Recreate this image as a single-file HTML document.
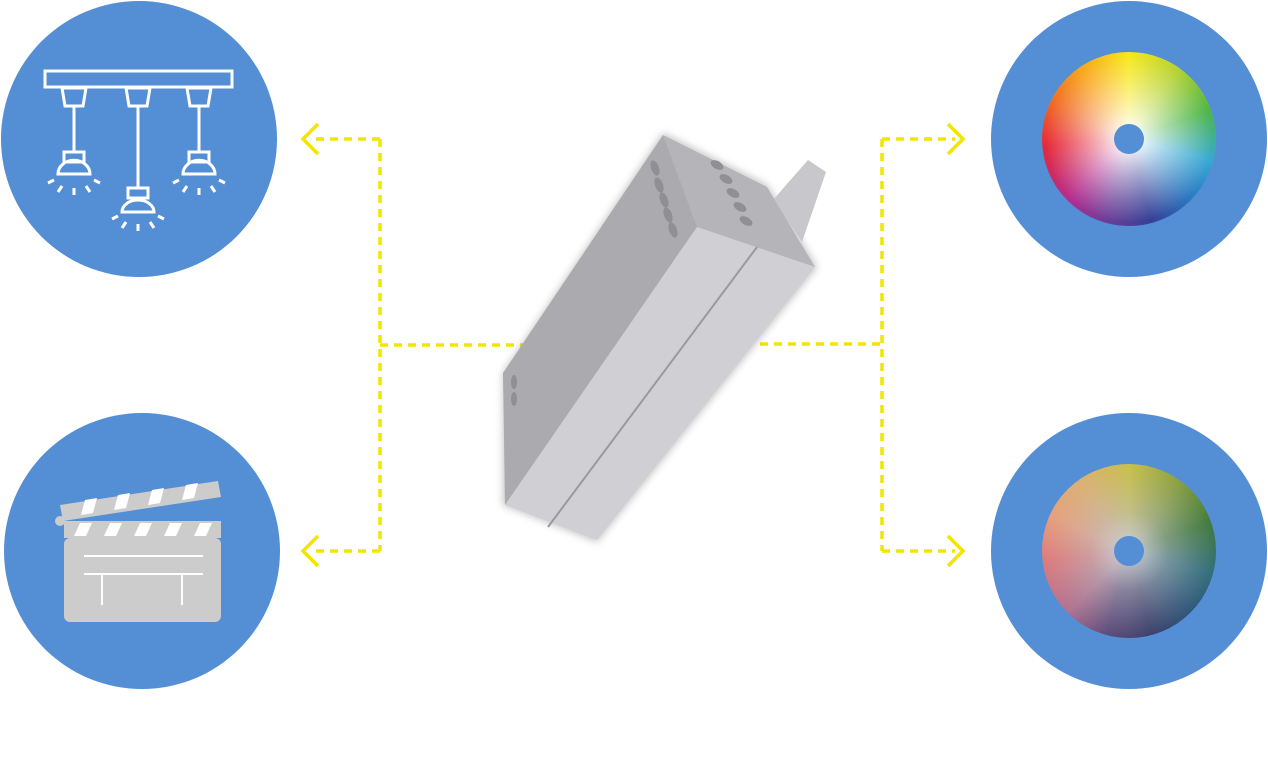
<!DOCTYPE html>
<html><head><meta charset="utf-8"><style>
html,body{margin:0;padding:0;background:#fff;}
body{width:1268px;height:764px;position:relative;overflow:hidden;font-family:"Liberation Sans",sans-serif;}
.c{position:absolute;border-radius:50%;background:#548fd5;}
.w{position:absolute;border-radius:50%;}
</style></head><body>
<div class="c" style="left:1px;top:1px;width:276px;height:276px"></div>
<div class="c" style="left:4px;top:413px;width:276px;height:276px"></div>
<div class="c" style="left:991px;top:1px;width:276px;height:276px"></div>
<div class="c" style="left:991px;top:413px;width:276px;height:276px"></div>

<div class="w" style="left:1042px;top:52px;width:174px;height:174px;background:conic-gradient(#f7e81e 0deg,#b5d334 35deg,#4fb748 70deg,#36a9d3 105deg,#2b78c0 135deg,#363f97 165deg,#6a3f98 195deg,#b52d8e 225deg,#e5283a 265deg,#f06a26 295deg,#f9a51c 325deg,#f7e81e 360deg);"></div>
<div class="w" style="left:1042px;top:52px;width:174px;height:174px;background:radial-gradient(circle,rgba(255,255,255,0.85) 12%,rgba(255,255,255,0.55) 30%,rgba(255,255,255,0.25) 50%,rgba(255,255,255,0) 68%);"></div>
<div class="w" style="left:1114px;top:124px;width:30px;height:30px;background:#548fd5"></div>

<div class="w" style="left:1042px;top:464px;width:174px;height:174px;background:conic-gradient(#c9c048 0deg,#8aa040 35deg,#3f7a3a 70deg,#2e6c7a 105deg,#2d5478 135deg,#3a3f6a 165deg,#5c4a7a 195deg,#b0708f 225deg,#e07a7a 265deg,#e8a07a 295deg,#ddb070 325deg,#c9c048 360deg);"></div>
<div class="w" style="left:1042px;top:464px;width:174px;height:174px;background:radial-gradient(circle,rgba(200,200,205,0.85) 12%,rgba(190,190,195,0.5) 32%,rgba(190,190,195,0.2) 55%,rgba(190,190,195,0) 72%);"></div>
<div class="w" style="left:1114px;top:536px;width:30px;height:30px;background:#548fd5"></div>

<svg width="1268" height="764" style="position:absolute;left:0;top:0">
<g stroke="#f2e500" stroke-width="3.5" fill="none" stroke-dasharray="8,6">
<path d="M380 139 V551"/><path d="M380 139 H312"/><path d="M380 551 H312"/><path d="M380 345 H525"/>
<path d="M882 139 V551"/><path d="M882 139 H955"/><path d="M882 551 H955"/><path d="M760 344 H882"/>
</g>
<g stroke="#f2e500" stroke-width="3.5" fill="none">
<path d="M318 124 L303 139 L318 154"/><path d="M318 536 L303 551 L318 566"/>
<path d="M948 124 L963 139 L948 154"/><path d="M948 536 L963 551 L948 566"/>
</g>
<!-- lamps -->
<g stroke="#fff" stroke-width="3" fill="none">
<rect x="45" y="71" width="187" height="16"/>
<path d="M62 88 h24 l-3 18 h-18z"/><path d="M126 88 h24 l-3 18 h-18z"/><path d="M187 88 h24 l-3 18 h-18z"/>
<path d="M74 106 V152"/><path d="M138 106 V188"/><path d="M199 106 V152"/>
<path d="M64 152 h20 v10 h-20z M58 174 a14 12 0 0 1 32 0z"/>
<path d="M128 188 h20 v10 h-20z M122 212 a16 12 0 0 1 32 0z"/>
<path d="M189 152 h20 v10 h-20z M183 174 a14 12 0 0 1 32 0z"/>
<path d="M62 186 l-4 6 M74 188 v7 M86 186 l4 6 M54 180 l-6 3 M94 180 l6 3"/>
<path d="M126 222 l-4 6 M138 224 v7 M150 222 l4 6 M118 216 l-6 3 M158 216 l6 3"/>
<path d="M187 186 l-4 6 M199 188 v7 M211 186 l4 6 M179 180 l-6 3 M219 180 l6 3"/>
</g>
<!-- clapper -->
<g>
<rect x="64" y="538" width="157" height="84" rx="6" fill="#cccccc"/>
<rect x="64" y="521" width="157" height="17" fill="#cccccc"/>
<polygon points="60,505 218,481 221,497 63,521" fill="#cccccc"/>
<g fill="#fff"><polygon points="80,523 92,523 86,536 74,536"/><polygon points="110,523 122,523 116,536 104,536"/><polygon points="140,523 152,523 146,536 134,536"/><polygon points="170,523 182,523 176,536 164,536"/><polygon points="200,523 212,523 206,536 194,536"/>
<polygon points="85,500 97,498 93,513 81,515"/><polygon points="118,495 130,493 126,508 114,510"/><polygon points="152,490 164,488 160,503 148,505"/><polygon points="186,485 198,483 194,498 182,500"/></g>
<circle cx="60" cy="521" r="5" fill="#cccccc"/>
<g stroke="#fff" stroke-width="2"><path d="M84 556 H203 M84 574 H203 M102 574 V605 M182 574 V605"/></g>
</g>
<!-- device -->
<defs><filter id="sh"><feGaussianBlur stdDeviation="4"/></filter></defs>
<polygon points="663,133 767,185 817,267 597,542 503,505 503,373" fill="#888" filter="url(#sh)" opacity="0.5"/>
<polygon points="773,200 808,160 826,172 802,242" fill="#c8c8cc"/>
<polygon points="663,135 767,187 815,267 697,227" fill="#b5b5b9"/>
<polygon points="663,135 697,227 505,505 503,373" fill="#ababaf"/>
<polygon points="697,227 815,267 597,540 505,505" fill="#d0d0d4"/>
<path d="M757 247 L548 527" stroke="#9a9a9e" stroke-width="2"/>
<g fill="#909094">
<ellipse cx="655" cy="168" rx="4" ry="8" transform="rotate(-20 655 168)"/><ellipse cx="659" cy="185" rx="4" ry="8" transform="rotate(-20 659 185)"/><ellipse cx="664" cy="200" rx="4" ry="8" transform="rotate(-20 664 200)"/><ellipse cx="668" cy="215" rx="4" ry="8" transform="rotate(-20 668 215)"/><ellipse cx="673" cy="230" rx="4" ry="8" transform="rotate(-20 673 230)"/>
<ellipse cx="717" cy="165" rx="7" ry="4" transform="rotate(30 717 165)"/><ellipse cx="726" cy="179" rx="7" ry="4" transform="rotate(30 726 179)"/><ellipse cx="733" cy="193" rx="7" ry="4" transform="rotate(30 733 193)"/><ellipse cx="740" cy="207" rx="7" ry="4" transform="rotate(30 740 207)"/><ellipse cx="746" cy="221" rx="7" ry="4" transform="rotate(30 746 221)"/>
<ellipse cx="514" cy="382" rx="3" ry="7"/><ellipse cx="514" cy="399" rx="3" ry="7"/>
</g>
</svg>
</body></html>
